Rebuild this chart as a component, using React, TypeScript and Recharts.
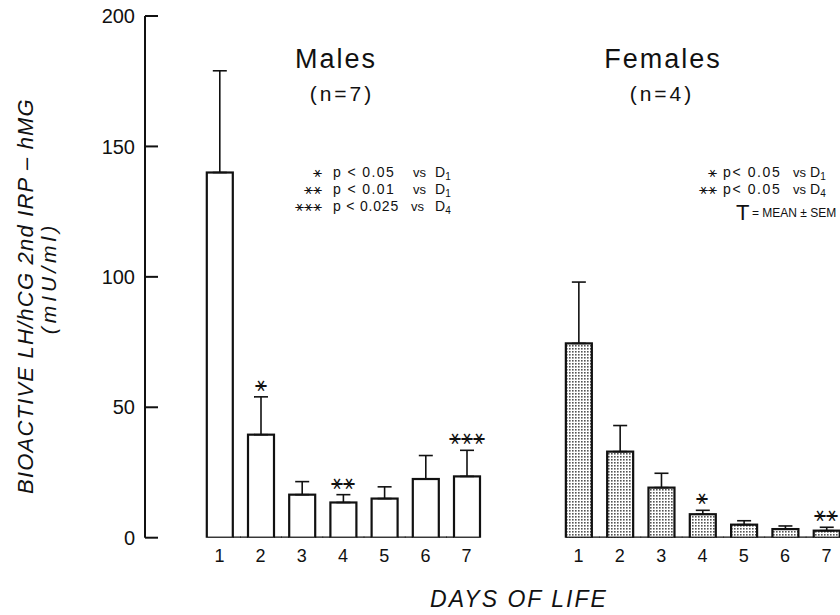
import React from 'react'
import { ComposedChart, Bar, Line, XAxis, YAxis, ErrorBar, LabelList } from 'recharts'

// days of life 1..7
const days = ['1', '2', '3', '4', '5', '6', '7']

// males (n=7), mean and SEM, mIU/ml
const maleMean = [140, 39.5, 16.5, 13.5, 15, 22.5, 23.5]
const maleSem = [39, 14.5, 5, 3, 4.5, 9, 10]
const maleSig = ['', '*', '', '**', '', '', '***']

// females (n=4)
const femaleMean = [74.5, 33, 19.2, 9, 5, 3.3, 2.7]
const femaleSem = [23.5, 10, 5.5, 1.5, 1.5, 1.2, 1.3]
const femaleSig = ['', '', '', '*', '', '', '**']

const yTicks = [0, 50, 100, 150, 200]

const FONT = '"Liberation Sans", Arial, sans-serif'
const INK = '#111'
const STAR = '⚹'

const buildRows = (mean: number[], sem: number[], sig: string[]) =>
  days.map((day, i) => ({
    day,
    mean: mean[i],
    err: [0, sem[i]],
    top: sig[i] ? mean[i] + sem[i] : null,
    sig: sig[i] ? STAR.repeat(sig[i].length) : '',
  }))

const maleData = buildRows(maleMean, maleSem, maleSig)
const femaleData = buildRows(femaleMean, femaleSem, femaleSig)

// bar outline + the piece of baseline under/around it
const makeBarShape = (fill: string) => (props: any) => {
  const { x, y, width, height } = props
  const day = props.payload ? props.payload.day : props.day
  const half = 8
  const x1 = day === days[0] ? x : x - half
  const x2 = day === days[days.length - 1] ? x + width : x + width + half
  const base = y + height
  return (
    <g>
      <line x1={x1} x2={x2} y1={base} y2={base} stroke={INK} strokeWidth={2.2} />
      <rect x={x} y={y} width={width} height={height} fill={fill} stroke={INK} strokeWidth={2.2} />
    </g>
  )
}

const YTick = (props: any) => {
  const { x, y, payload } = props
  return (
    <g>
      <line x1={x + 10} x2={x + 23} y1={y} y2={y} stroke={INK} strokeWidth={2} />
      <text x={x} y={y} dy="0.36em" textAnchor="end" fontSize={20} fontFamily={FONT} fill={INK}>
        {payload.value}
      </text>
    </g>
  )
}

const StarLabel = (props: any) => {
  const { x, y, value } = props
  if (!value) return null
  return (
    <text x={x} y={y - 13} dy="0.35em" textAnchor="middle" fontSize={20} fontFamily='"DejaVu Sans", sans-serif' fill={INK}>
      {value}
    </text>
  )
}

function Panel({ data, fill, showAxis }: { data: any[]; fill: string; showAxis: boolean }) {
  return (
    <ComposedChart
      width={showAxis ? 500 : 360}
      height={615}
      data={data}
      margin={showAxis ? { top: 16, right: 12.8, left: 85, bottom: 47.3 } : { top: 16, right: 12.95, left: 57.85, bottom: 47.3 }}
    >
      <XAxis
        dataKey="day"
        axisLine={false}
        tickLine={false}
        tickSize={0}
        tickMargin={12}
        height={30}
        padding={showAxis ? { left: 53.8, right: 0 } : { left: 0, right: 0 }}
        tick={{ fill: INK, fontSize: 18, fontFamily: FONT }}
      />
      <YAxis
        hide={!showAxis}
        width={60}
        domain={[0, 200]}
        ticks={yTicks}
        allowDataOverflow
        axisLine={{ stroke: INK, strokeWidth: 2 }}
        tickLine={false}
        tickSize={0}
        tickMargin={10}
        tick={<YTick />}
      />
      <Bar dataKey="mean" barSize={26} shape={makeBarShape(fill)} isAnimationActive={false}>
        <ErrorBar dataKey="err" width={7} stroke={INK} strokeWidth={1.6} />
      </Bar>
      <Line dataKey="top" stroke="none" dot={false} activeDot={false} isAnimationActive={false} connectNulls={false}>
        <LabelList dataKey="sig" content={<StarLabel />} />
      </Line>
    </ComposedChart>
  )
}

export default function App() {
  const starFont = '"DejaVu Sans", sans-serif'
  return (
    <div style={{ position: 'absolute', left: 0, top: 0, width: 840, height: 615, overflow: 'hidden', background: '#fff' }}>
      <svg width={0} height={0} style={{ position: 'absolute' }}>
        <defs>
          <pattern id="stipple" width={3} height={3} patternUnits="userSpaceOnUse">
            <rect width={3} height={3} fill="#fff" />
            <rect width={1.6} height={1.6} fill="#555" />
          </pattern>
        </defs>
      </svg>
      <div style={{ position: 'absolute', left: 0, top: 0 }}>
        <Panel data={maleData} fill="#fff" showAxis />
      </div>
      <div style={{ position: 'absolute', left: 500, top: 0 }}>
        <Panel data={femaleData} fill="url(#stipple)" showAxis={false} />
      </div>
      <svg width={840} height={615} style={{ position: 'absolute', left: 0, top: 0, pointerEvents: 'none' }} fontFamily={FONT} fill={INK}>
        {/* titles */}
        <text x={336} y={68} fontSize={27} textAnchor="middle" letterSpacing={2}>Males</text>
        <text x={342} y={101} fontSize={21} textAnchor="middle" letterSpacing={3}>(n=7)</text>
        <text x={663} y={68} fontSize={27} textAnchor="middle" letterSpacing={2}>Females</text>
        <text x={662} y={101} fontSize={21} textAnchor="middle" letterSpacing={3}>(n=4)</text>

        {/* male significance key */}
        <text x={322} y={177} fontSize={15} textAnchor="end" fontFamily={starFont}>{STAR}</text>
        <text x={333} y={177} fontSize={14} letterSpacing={1.4}>p &lt; 0.05</text>
        <text x={413} y={177} fontSize={13}>vs</text>
        <text x={435} y={177} fontSize={14}>D<tspan dy={3} fontSize={10}>1</tspan></text>
        <text x={322} y={194} fontSize={15} textAnchor="end" fontFamily={starFont}>{STAR + STAR}</text>
        <text x={333} y={194} fontSize={14} letterSpacing={1.4}>p &lt; 0.01</text>
        <text x={413} y={194} fontSize={13}>vs</text>
        <text x={435} y={194} fontSize={14}>D<tspan dy={3} fontSize={10}>1</tspan></text>
        <text x={322} y={211} fontSize={15} textAnchor="end" fontFamily={starFont}>{STAR + STAR + STAR}</text>
        <text x={333} y={211} fontSize={14} letterSpacing={0.8}>p &lt; 0.025</text>
        <text x={411} y={211} fontSize={13}>vs</text>
        <text x={435} y={211} fontSize={14}>D<tspan dy={3} fontSize={10}>4</tspan></text>

        {/* female significance key */}
        <text x={717} y={177} fontSize={15} textAnchor="end" fontFamily={starFont}>{STAR}</text>
        <text x={723} y={177} fontSize={14} letterSpacing={1.6}>p&lt; 0.05</text>
        <text x={793} y={177} fontSize={13}>vs</text>
        <text x={810} y={177} fontSize={14}>D<tspan dy={3} fontSize={10}>1</tspan></text>
        <text x={717} y={194} fontSize={15} textAnchor="end" fontFamily={starFont}>{STAR + STAR}</text>
        <text x={723} y={194} fontSize={14} letterSpacing={1.6}>p&lt; 0.05</text>
        <text x={793} y={194} fontSize={13}>vs</text>
        <text x={810} y={194} fontSize={14}>D<tspan dy={3} fontSize={10}>4</tspan></text>
        <text x={736} y={220} fontSize={22} fontWeight={300}>T</text>
        <text x={752} y={217} fontSize={12}>= MEAN ± SEM</text>

        {/* axis titles */}
        <text transform="translate(33, 296) rotate(-90)" fontSize={22} fontStyle="italic" textAnchor="middle" letterSpacing={1.2}>
          BIOACTIVE LH/hCG 2nd IRP – hMG
        </text>
        <text transform="translate(56, 278) rotate(-90)" fontSize={21} fontStyle="italic" textAnchor="middle" letterSpacing={4}>
          (mIU/ml)
        </text>
        <text x={519} y={607} fontSize={23} fontStyle="italic" textAnchor="middle" letterSpacing={2}>
          DAYS OF LIFE
        </text>
      </svg>
    </div>
  )
}
